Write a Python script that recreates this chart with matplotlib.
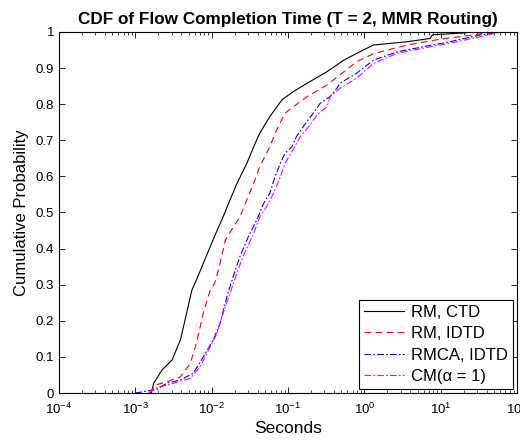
import matplotlib
matplotlib.use('Agg')
import matplotlib.pyplot as plt
import numpy as np

plt.rcParams['font.family'] = ['Liberation Sans', 'DejaVu Sans']
plt.rcParams['mathtext.fontset'] = 'custom'
plt.rcParams['mathtext.rm'] = 'Liberation Sans'
plt.rcParams['mathtext.it'] = 'Liberation Sans:italic'

# log10(seconds) and cumulative probability
rm_ctd_x = [-2.79, -2.76, -2.65, -2.52, -2.41, -2.33, -2.26, -2.20, -2.11, -2.02, -1.93,
            -1.85, -1.76, -1.67, -1.54, -1.45, -1.37, -1.24, -1.08, -0.93, -0.75, -0.49,
            -0.27, -0.06, 0.12, 0.56, 0.86, 0.89, 1.34, 1.39]
rm_ctd_y = [0.0, 0.027, 0.064, 0.091, 0.147, 0.22, 0.285, 0.313, 0.359, 0.405, 0.45,
            0.488, 0.535, 0.58, 0.636, 0.682, 0.72, 0.765, 0.812, 0.835, 0.858, 0.89,
            0.922, 0.945, 0.964, 0.973, 0.982, 0.992, 0.998, 1.0]

rm_idtd_x = [-2.81, -2.74, -2.59, -2.41, -2.28, -2.20, -2.11, -2.02, -1.96, -1.89, -1.82,
             -1.74, -1.63, -1.54, -1.45, -1.37, -1.24, -1.15, -1.04, -0.93, -0.75, -0.49,
             -0.32, -0.10, 0.12, 0.56, 0.99, 1.43, 1.61, 1.91]
rm_idtd_y = [0.0, 0.022, 0.031, 0.045, 0.082, 0.138, 0.221, 0.285, 0.304, 0.359, 0.424,
             0.452, 0.488, 0.535, 0.581, 0.627, 0.682, 0.728, 0.775, 0.793, 0.821, 0.853,
             0.881, 0.918, 0.94, 0.964, 0.98, 0.992, 0.998, 1.0]

rmca_x = [-3.00, -2.72, -2.59, -2.41, -2.24, -2.11, -1.98, -1.89, -1.80, -1.72, -1.63,
          -1.52, -1.41, -1.32, -1.24, -1.17, -1.10, -1.04, -0.95, -0.89, -0.80, -0.67,
          -0.58, -0.45, -0.36, -0.32, -0.10, 0.12, 0.43, 0.77, 1.12, 1.52, 1.74, 1.91]
rmca_y = [0.0, 0.01, 0.027, 0.036, 0.055, 0.1, 0.147, 0.193, 0.267, 0.322, 0.378,
          0.433, 0.479, 0.525, 0.553, 0.599, 0.636, 0.664, 0.682, 0.71, 0.738, 0.775,
          0.802, 0.821, 0.844, 0.858, 0.886, 0.922, 0.945, 0.959, 0.973, 0.992, 0.998, 1.0]

cm_x = [-2.83, -2.74, -2.50, -2.28, -2.15, -2.02, -1.93, -1.85, -1.76, -1.67, -1.59,
        -1.45, -1.37, -1.28, -1.19, -1.10, -1.04, -0.95, -0.84, -0.73, -0.62, -0.49,
        -0.45, -0.32, -0.10, 0.12, 0.43, 0.77, 1.12, 1.52, 1.74, 1.94]
cm_y = [0.0, 0.013, 0.027, 0.041, 0.073, 0.128, 0.165, 0.221, 0.276, 0.332, 0.378,
        0.442, 0.488, 0.516, 0.553, 0.599, 0.636, 0.668, 0.71, 0.738, 0.77, 0.793,
        0.82, 0.844, 0.872, 0.913, 0.941, 0.955, 0.969, 0.987, 0.998, 1.0]

labels = ['RM, CTD', 'RM, IDTD', 'RMCA, IDTD', 'CM(α = 1)']

fig = plt.figure(figsize=(5.2, 4.4), dpi=100)
ax = fig.add_axes([0.1135, 0.1068, 0.8808, 0.8205])

ax.plot(10 ** np.array(rm_ctd_x), rm_ctd_y, color='k', lw=0.8, label=labels[0])
ax.plot(10 ** np.array(rm_idtd_x), rm_idtd_y, color='#ff0000', lw=0.8, ls=(0, (6, 4)), label=labels[1])
ax.plot(10 ** np.array(rmca_x), rmca_y, color='#0000ff', lw=0.8, ls=(0, (6, 2, 1.5, 2)), label=labels[2])
ax.plot(10 ** np.array(cm_x), cm_y, color='#ff00ff', lw=0.8, ls=(0, (6, 2, 1.5, 2)), label=labels[3])

ax.set_xscale('log')
ax.set_xlim(1e-4, 1e2)
ax.set_ylim(0, 1)
ax.set_yticks(np.arange(0, 1.01, 0.1))
ax.set_yticklabels(['0', '0.1', '0.2', '0.3', '0.4', '0.5', '0.6', '0.7', '0.8', '0.9', '1'])
ax.tick_params(which='both', direction='in', top=True, right=True, labelsize=9.5)
ax.tick_params(axis='x', which='major', labelsize=9.5, pad=6)
ax.tick_params(which='major', length=4, width=0.6)
ax.tick_params(which='minor', length=2, width=0.5)
for s in ax.spines.values():
    s.set_linewidth(0.8)

ax.set_xlabel('Seconds', fontsize=12.5, labelpad=3)
ax.set_ylabel('Cumulative Probability', fontsize=12, labelpad=5)
ax.set_title('CDF of Flow Completion Time (T = 2, MMR Routing)', fontsize=12.3,
             fontweight='bold', pad=6)

leg = ax.legend(loc='lower right', fontsize=12, handlelength=2.4, fancybox=False,
                framealpha=1, edgecolor='k', borderaxespad=0.25, labelspacing=0.38,
                handletextpad=0.4, borderpad=0.3)
leg.get_frame().set_linewidth(0.8)

fig.savefig('out.png', dpi=100)
